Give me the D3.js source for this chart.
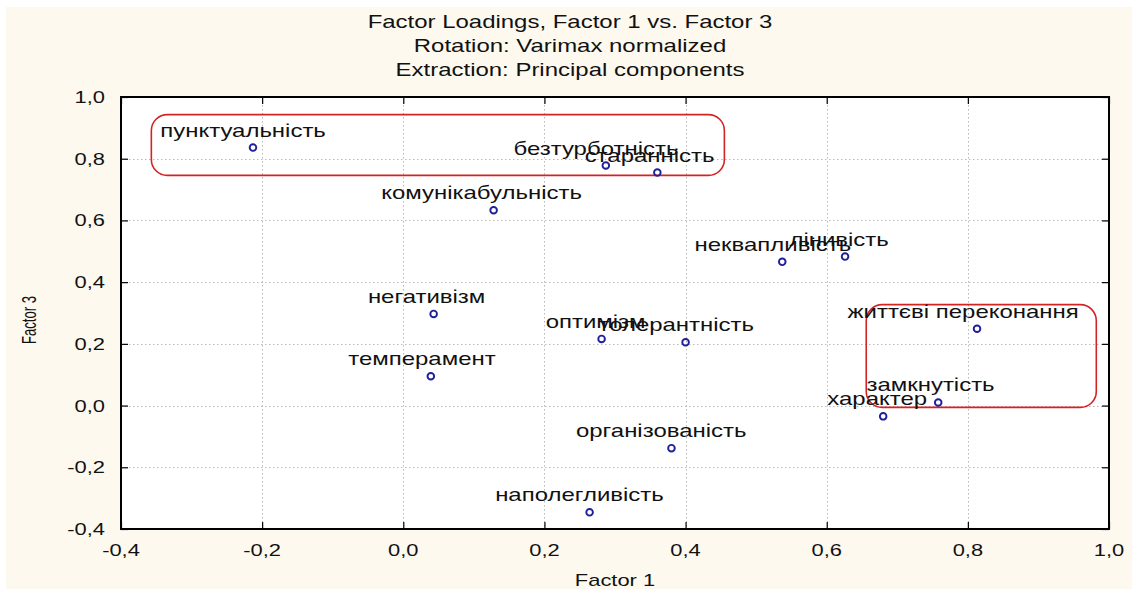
<!DOCTYPE html>
<html>
<head>
<meta charset="utf-8">
<script src="https://cdn.jsdelivr.net/npm/d3@7"></script>
<style>
  html, body { margin: 0; padding: 0; background: #fdf9ef; }
  svg { display: block; }
  text { font-family: "Liberation Sans", Arial, sans-serif; fill: #111; }
</style>
</head>
<body>
<svg id="chart" width="1132" height="589"></svg>
<script>
// ---- data ----
const labels = ["пунктуальність", "безтурботність", "старанність", "комунікабульність",
  "неквапливість", "лінивість", "негативізм", "оптимізм", "толерантність", "темперамент",
  "життєві переконання", "замкнутість", "характер", "організованість", "наполегливість"];
const factor1 = [-0.213, 0.287, 0.360, 0.128, 0.537, 0.626, 0.043, 0.281, 0.400, 0.039,
  0.813, 0.758, 0.680, 0.380, 0.264];
const factor3 = [0.836, 0.778, 0.755, 0.633, 0.466, 0.483, 0.297, 0.216, 0.205, 0.095,
  0.249, 0.010, -0.035, -0.138, -0.346];
const xTicks = [-0.4, -0.2, 0.0, 0.2, 0.4, 0.6, 0.8, 1.0];
const yTicks = [-0.4, -0.2, 0.0, 0.2, 0.4, 0.6, 0.8, 1.0];
const titleLines = ["Factor Loadings, Factor 1 vs. Factor 3", "Rotation: Varimax normalized",
  "Extraction: Principal components"];
const xTitle = "Factor 1";
const yTitle = "Factor 3";
// highlight boxes in data coordinates [x0, x1, y0, y1]
const boxX0 = [-0.357, 0.656];
const boxX1 = [0.455, 0.982];
const boxY0 = [0.746, -0.006];
const boxY1 = [0.943, 0.327];

// ---- layout ----
const W = 1132, H = 589;
const plot = { left: 121, right: 1109, top: 97, bottom: 529 };
const SX = 1.37; // horizontal stretch of text in the original picture

const svg = d3.select("#chart");
svg.append("rect").attr("width", W).attr("height", H).attr("fill", "#fdf9ef");
svg.append("rect").attr("width", W).attr("height", 7).attr("fill", "#ffffff");
svg.append("rect").attr("width", 6).attr("height", H).attr("fill", "#ffffff");

const x = d3.scaleLinear().domain([-0.4, 1.0]).range([plot.left, plot.right]);
const y = d3.scaleLinear().domain([-0.4, 1.0]).range([plot.bottom, plot.top]);
const fmt = v => d3.format(".1f")(v).replace(".", ",").replace("−", "-");

function sText(g, str, px, py, size, anchor, sx) {
  return g.append("text")
    .attr("transform", `translate(${px},${py}) scale(${sx},1)`)
    .attr("text-anchor", anchor)
    .attr("font-size", size)
    .text(str);
}

// plot background
svg.append("rect").attr("x", plot.left).attr("y", plot.top)
  .attr("width", plot.right - plot.left).attr("height", plot.bottom - plot.top)
  .attr("fill", "#ffffff");

// grid
const grid = svg.append("g").attr("stroke", "#b8b8b8").attr("stroke-width", 1)
  .attr("stroke-dasharray", "1.5,2.5");
grid.selectAll("line.v").data(xTicks.slice(1, -1)).join("line")
  .attr("x1", d => Math.round(x(d)) + 0.5).attr("x2", d => Math.round(x(d)) + 0.5)
  .attr("y1", plot.top).attr("y2", plot.bottom);
grid.selectAll("line.h").data(yTicks.slice(1, -1)).join("line")
  .attr("y1", d => Math.round(y(d)) + 0.5).attr("y2", d => Math.round(y(d)) + 0.5)
  .attr("x1", plot.left).attr("x2", plot.right);

// axes with inward ticks
const axB = svg.append("g").attr("transform", `translate(0,${plot.bottom})`)
  .call(d3.axisBottom(x).tickValues(xTicks).tickSize(-7).tickFormat(""));
const axT = svg.append("g").attr("transform", `translate(0,${plot.top})`)
  .call(d3.axisTop(x).tickValues(xTicks).tickSize(-7).tickFormat(""));
const axL = svg.append("g").attr("transform", `translate(${plot.left},0)`)
  .call(d3.axisLeft(y).tickValues(yTicks).tickSize(-7).tickFormat(""));
const axR = svg.append("g").attr("transform", `translate(${plot.right},0)`)
  .call(d3.axisRight(y).tickValues(yTicks).tickSize(-7).tickFormat(""));
[axB, axT, axL, axR].forEach(a => {
  a.select(".domain").remove();
  a.selectAll(".tick line").attr("stroke", "#000").attr("stroke-width", 1.2);
});

// frame
svg.append("rect").attr("x", plot.left).attr("y", plot.top)
  .attr("width", plot.right - plot.left).attr("height", plot.bottom - plot.top)
  .attr("fill", "none").attr("stroke", "#000").attr("stroke-width", 2);

// tick labels
const tl = svg.append("g");
xTicks.forEach(v => sText(tl, fmt(v), x(v), 556, 16, "middle", SX));
yTicks.forEach(v => sText(tl, fmt(v), plot.left - 16, y(v) + 6, 16, "end", SX));

// axis titles
sText(svg, xTitle, (plot.left + plot.right) / 2, 586, 16, "middle", SX);
svg.append("text")
  .attr("transform", `translate(36,${(plot.top + plot.bottom) / 2 + 7}) scale(1.3,0.82) rotate(-90)`)
  .attr("text-anchor", "middle").attr("font-size", 16).text(yTitle);

// titles
titleLines.forEach((t, i) => sText(svg, t, 570, 27.5 + i * 24, 17.5, "middle", SX));

// highlight boxes
const boxes = d3.range(boxX0.length).map(i => ({ x0: boxX0[i], x1: boxX1[i], y0: boxY0[i], y1: boxY1[i] }));
svg.append("g").selectAll("rect").data(boxes).join("rect")
  .attr("x", d => x(d.x0)).attr("y", d => y(d.y1))
  .attr("width", d => x(d.x1) - x(d.x0)).attr("height", d => y(d.y0) - y(d.y1))
  .attr("rx", 16).attr("ry", 16)
  .attr("fill", "none").attr("stroke", "#d32424").attr("stroke-width", 1.6);

// points
const pts = labels.map((l, i) => ({ label: l, f1: factor1[i], f3: factor3[i] }));
svg.append("g").selectAll("circle").data(pts).join("circle")
  .attr("cx", d => x(d.f1)).attr("cy", d => y(d.f3)).attr("r", 3.3)
  .attr("fill", "none").attr("stroke", "#1f1f9a").attr("stroke-width", 1.9);

// point labels
const lg = svg.append("g");
pts.forEach(d => {
  const t = sText(lg, d.label, x(d.f1), y(d.f3) - 11, 17.5, "start", SX);
  const w = t.node().getComputedTextLength() * SX;
  t.attr("transform", `translate(${x(d.f1) - 0.56 * w},${y(d.f3) - 11}) scale(${SX},1)`);
});
</script>
</body>
</html>
